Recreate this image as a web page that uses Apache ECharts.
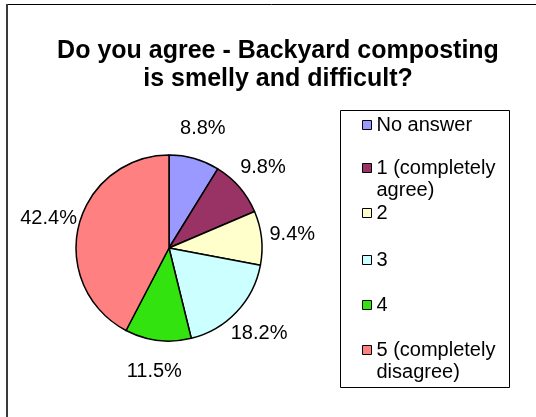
<!DOCTYPE html>
<html>
<head>
<meta charset="utf-8">
<script src="https://cdn.jsdelivr.net/npm/echarts@6/dist/echarts.min.js"></script>
<style>
html,body{margin:0;padding:0;background:#fff;}
#chart{width:536px;height:417px;}
</style>
</head>
<body>
<div id="chart"></div>
<script>
const titleText = 'Do you agree - Backyard composting\nis smelly and difficult?';
const categories = ['No answer', '1 (completely agree)', '2', '3', '4', '5 (completely disagree)'];
const legendLabels = ['No answer', '1 (completely\nagree)', '2', '3', '4', '5 (completely\ndisagree)'];
const values = [8.8, 9.8, 9.4, 18.2, 11.5, 42.4];
const colors = ['#9999FF', '#993366', '#FFFFCC', '#CCFFFF', '#33E30F', '#FF8080'];

const FONT = "'Liberation Sans', Arial, sans-serif";
const legendRowCenters = [125, 168, 213, 260, 305, 350];

const pieData = categories.map((c, i) => ({ name: c, value: values[i], itemStyle: { color: colors[i] } }));
const labelData = categories.map((c, i) => ({ name: c, value: values[i] }));

const legends = categories.map((c, i) => {
  const twoLine = legendLabels[i].indexOf('\n') >= 0;
  return {
    orient: 'vertical',
    left: 362,
    top: legendRowCenters[i] - (twoLine ? 33 : 11),
    padding: 0,
    itemWidth: 9,
    itemHeight: 9,
    icon: 'rect',
    selectedMode: false,
    itemStyle: { borderColor: '#000', borderWidth: 1 },
    // a blank first line keeps the first text line level with the icon
    formatter: () => (twoLine ? '\n' : '') + legendLabels[i],
    textStyle: { fontFamily: FONT, fontSize: 20, color: '#000', lineHeight: 22 },
    data: [c]
  };
});

const chart = echarts.init(document.getElementById('chart'), null, { renderer: 'canvas' });
chart.setOption({
  animation: false,
  backgroundColor: '#fff',
  title: {
    text: titleText,
    left: 278,
    top: 37,
    padding: 0,
    textAlign: 'center',
    textVerticalAlign: 'top',
    textStyle: { fontFamily: FONT, fontSize: 25, fontWeight: 'bold', color: '#000', lineHeight: 28 }
  },
  legend: legends,
  graphic: [
    { type: 'line', shape: { x1: 7, y1: 4.5, x2: 536, y2: 4.5 }, style: { stroke: '#000', lineWidth: 1 }, silent: true },
    { type: 'line', shape: { x1: 7, y1: 4, x2: 7, y2: 417 }, style: { stroke: '#3a3a3a', lineWidth: 2 }, silent: true },
    { type: 'rect', shape: { x: 340.5, y: 110.5, width: 169, height: 277 }, style: { fill: 'none', stroke: '#000', lineWidth: 1 }, z: -1, silent: true }
  ],
  series: [
    {
      type: 'pie',
      center: [169, 248],
      radius: 93,
      startAngle: 90,
      clockwise: true,
      label: { show: false },
      labelLine: { show: false },
      emphasis: { disabled: true },
      itemStyle: { borderColor: '#000', borderWidth: 1.5 },
      data: pieData
    },
    {
      type: 'pie',
      center: [169, 248],
      radius: [100, 142],
      startAngle: 90,
      clockwise: true,
      silent: true,
      emphasis: { disabled: true },
      itemStyle: { color: 'rgba(0,0,0,0)', borderWidth: 0 },
      label: { show: true, position: 'inside', formatter: '{c}%', fontFamily: FONT, fontSize: 20, color: '#000', rotate: 0 },
      labelLine: { show: false },
      data: labelData
    }
  ]
});
</script>
</body>
</html>
